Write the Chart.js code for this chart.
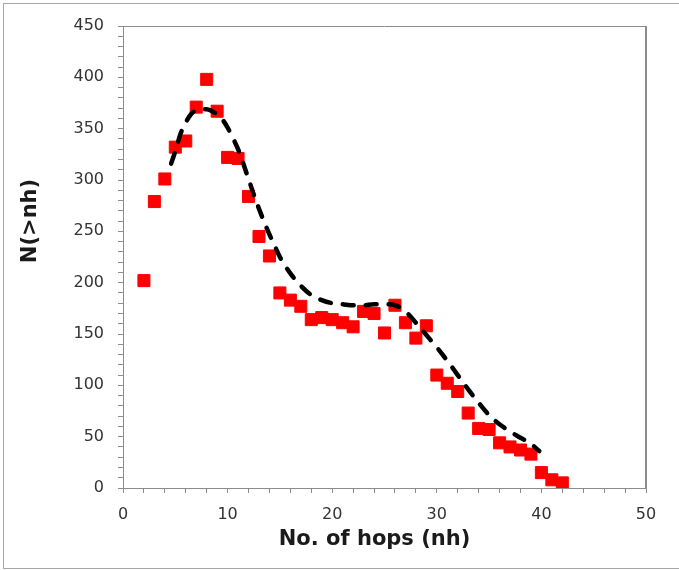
<!DOCTYPE html>
<html><head><meta charset="utf-8">
<script src="https://cdn.jsdelivr.net/npm/chart.js@4/dist/chart.umd.min.js"></script>
<style>
html,body{margin:0;padding:0;background:#fff;}
#wrap{position:relative;width:679px;height:570px;overflow:hidden;}
#frame{position:absolute;left:3px;top:3px;width:677px;height:566px;border:1px solid #a6a6a6;box-sizing:border-box;pointer-events:none;}
canvas{position:absolute;left:0;top:0;}
</style></head>
<body><div id="wrap"><canvas id="c" width="679" height="570"></canvas><div id="frame"></div></div>
<script>
// Measured data: number of nodes N(>nh) versus number of hops
const hops   = [2,3,4,5,6,7,8,9,10,11,12,13,14,15,16,17,18,19,20,21,22,23,24,25,26,27,28,29,30,31,32,33,34,35,36,37,38,39,40,41,42];
const counts = [202,279,301,332,338,371,398,367,322,321,284,245,226,190,183,177,164,166,164,161,157,172,170,151,178,161,146,158,110,102,94,73,58,57,44,40,37,33,15,8,5];
// Fitted (dashed) curve
const fitX = [4.6,5,5.5,6,6.5,7,7.5,8,8.5,9,9.5,10,10.5,11,11.5,12,12.5,13,13.5,14,14.5,15,16,17,18,19,20,21,22,23,24,25,26,27,28,29,30,31,32,33,34,35,36,37,38,39,39.8];
const fitY = [316,328,345,356,364,368,369,369,367,364,359,351,341,330,316,301,286,272,259,247,236,225,209,197,188,183,180,179,178,178,179,179,178,172,161,149,137,124,110,96,83,71,62,55,49,43,36];
// Axis tick labels
const xTickLabels = [0,10,20,30,40,50];
const yTickLabels = [0,50,100,150,200,250,300,350,400,450];
const xTitle = 'No. of hops (nh)';
const yTitle = 'N(>nh)';

const pointData = hops.map((h,i)=>({x:h,y:counts[i]}));
const fitData = fitX.map((h,i)=>({x:h,y:fitY[i]}));

const axisGray = '#8c8c8c';
const tickFont = {family:'"DejaVu Sans"', size:16};
const titleFont = {family:'"DejaVu Sans"', size:21, weight:'bold'};

// Plot-area frame (top and right edges) plus axis titles placed as in the reference
const plotFrame = {
  id:'plotFrame',
  beforeDatasetsDraw(chart){
    const {ctx, chartArea:a} = chart;
    ctx.save();
    ctx.strokeStyle = axisGray;
    ctx.lineWidth = 1;
    ctx.beginPath();
    ctx.moveTo(a.left, a.top + 0.5);
    ctx.lineTo(a.right, a.top + 0.5);
    ctx.stroke();
    ctx.lineWidth = 2;
    ctx.beginPath();
    ctx.moveTo(a.right, a.top);
    ctx.lineTo(a.right, a.bottom);
    ctx.stroke();
    ctx.restore();
  },
  afterDraw(chart){
    const {ctx, chartArea:a} = chart;
    ctx.save();
    ctx.fillStyle = '#1a1a1a';
    ctx.font = 'bold 21px "DejaVu Sans"';
    ctx.textAlign = 'center';
    ctx.textBaseline = 'middle';
    // x-axis title
    ctx.fillText(xTitle, a.left + (a.right - a.left) / 2 - 10, 540);
    // y-axis title, rotated
    ctx.translate(31, a.top + (a.bottom - a.top) / 2 - 36);
    ctx.rotate(-Math.PI / 2);
    ctx.fillText(yTitle, 0, 0);
    ctx.restore();
  }
};

new Chart(document.getElementById('c'), {
  type:'scatter',
  data:{datasets:[
    {label:'fit', data:fitData, showLine:true, borderColor:'#000', borderWidth:4.5,
     borderDash:[11,12], borderCapStyle:'round', pointRadius:0, cubicInterpolationMode:'monotone',
     fill:false, order:0},
    {label:'data', data:pointData, showLine:false, pointStyle:'rect', pointRadius:8.5,
     backgroundColor:'#ff0000', borderColor:'#ff0000', borderWidth:1, order:1}
  ]},
  options:{
    responsive:false, animation:false, events:[], devicePixelRatio:1,
    layout:{padding:{top:26, right:33, left:0, bottom:0}},
    plugins:{legend:{display:false}, tooltip:{enabled:false}},
    scales:{
      x:{type:'linear', min:0, max:50,
        afterFit(s){ s.height = 82; },
        border:{color:axisGray, width:1},
        grid:{drawOnChartArea:false, tickLength:5, tickColor:axisGray},
        ticks:{stepSize:2, autoSkip:false, maxRotation:0, padding:12, color:'#333', font:tickFont,
          callback:(v)=> xTickLabels.includes(v) ? String(v) : ''},
        title:{display:false, text:xTitle}
      },
      y:{type:'linear', min:0, max:450,
        afterFit(s){ s.width = 123; },
        border:{color:axisGray, width:1},
        grid:{drawOnChartArea:false, tickLength:5, tickColor:axisGray},
        ticks:{stepSize:10, autoSkip:false, padding:14, color:'#333', font:tickFont,
          callback:(v)=> yTickLabels.includes(v) ? String(v) : ''},
        title:{display:false, text:yTitle}
      }
    }
  },
  plugins:[plotFrame]
});
</script>
</body></html>
